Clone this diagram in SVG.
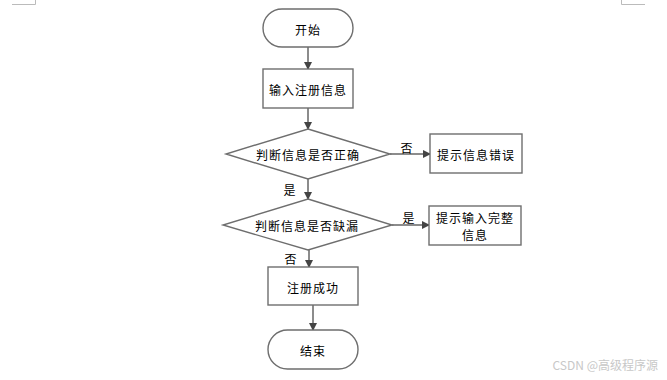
<svg xmlns="http://www.w3.org/2000/svg" width="667" height="380" viewBox="0 0 667 380">
<defs>
<marker id="ah" markerWidth="8" markerHeight="8" refX="7" refY="4" orient="auto" markerUnits="userSpaceOnUse">
<path d="M0,0 L8,4 L0,8 Z" fill="#444"/>
</marker>
<style>
.n{fill:#fff;stroke:#6e6e6e;stroke-width:1.4}
.t{font-family:"Noto Sans CJK SC","Liberation Sans",sans-serif;font-size:12px;fill:#000;text-anchor:middle;dominant-baseline:central;letter-spacing:1px}
.c{stroke:#666;stroke-width:1.5;fill:none;marker-end:url(#ah)}
.m{stroke:#bbb;stroke-width:1;fill:none}
</style>
</defs>
<rect width="667" height="380" fill="#fff"/>
<path class="m" d="M12,4.5 H35.5 V0"/>
<path class="m" d="M621.5,0 V4.5 H645"/>
<g id="connectors">
<line class="c" x1="308" y1="47" x2="308" y2="69"/>
<line class="c" x1="308" y1="108" x2="308" y2="129"/>
<line class="c" x1="390" y1="154" x2="430" y2="154"/>
<line class="c" x1="308" y1="179" x2="308" y2="199"/>
<line class="c" x1="392" y1="225" x2="429" y2="225"/>
<line class="c" x1="309" y1="250" x2="309" y2="267"/>
<line class="c" x1="313" y1="305" x2="313" y2="330"/>
<text class="t" x="407" y="147">否</text>
<text class="t" x="290" y="189">是</text>
<text class="t" x="409" y="217">是</text>
<text class="t" x="291" y="258">否</text>
</g>
<g id="start">
<rect class="n" x="263" y="9" width="90" height="38" rx="19" ry="19"/>
<text class="t" x="308" y="29">开始</text>
</g>
<g id="input">
<rect class="n" x="263" y="69" width="90" height="39"/>
<text class="t" x="308" y="89">输入注册信息</text>
</g>
<g id="check1">
<polygon class="n" points="308,129 390,154 308,179 226,154"/>
<text class="t" x="308" y="154">判断信息是否正确</text>
</g>
<g id="err">
<rect class="n" x="430" y="134" width="92" height="39"/>
<text class="t" x="476" y="154">提示信息错误</text>
</g>
<g id="check2">
<polygon class="n" points="308,199 392,225 308,250 223,225"/>
<text class="t" x="307" y="225">判断信息是否缺漏</text>
</g>
<g id="incomplete">
<rect class="n" x="429" y="206" width="92" height="39"/>
<text class="t" x="475" y="217">提示输入完整</text>
<text class="t" x="475" y="234">信息</text>
</g>
<g id="success">
<rect class="n" x="268" y="267" width="90" height="38"/>
<text class="t" x="313" y="287">注册成功</text>
</g>
<g id="end">
<rect class="n" x="268" y="330" width="90" height="39" rx="19.5" ry="19.5"/>
<text class="t" x="313" y="350">结束</text>
</g>
<text x="658" y="370" font-family="'Noto Sans CJK SC','Liberation Sans',sans-serif" font-size="12" fill="#c8c8c8" text-anchor="end">CSDN @高级程序源</text>
</svg>
